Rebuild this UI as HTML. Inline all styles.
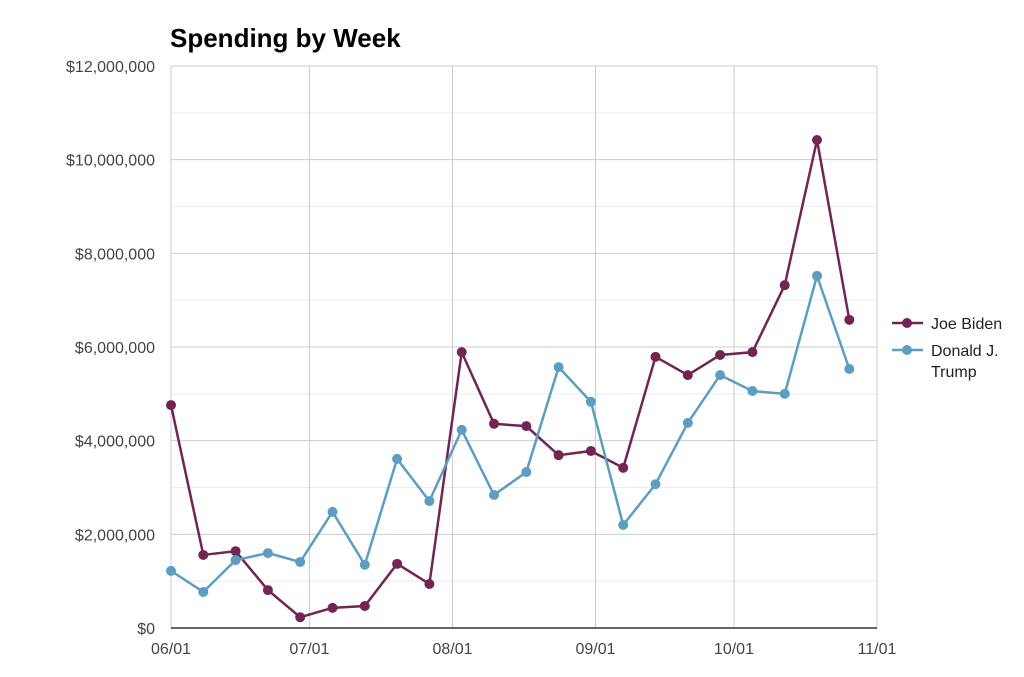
<!DOCTYPE html>
<html><head><meta charset="utf-8"><style>
body{margin:0;background:#fff;font-family:"Liberation Sans",Arial,sans-serif}
svg text{font-family:"Liberation Sans",Arial,sans-serif}
</style></head><body>
<svg id="chart" width="1024" height="672" xmlns="http://www.w3.org/2000/svg">
<text x="170" y="47" font-size="26" font-weight="bold" fill="#000">Spending by Week</text>
<g id="grid"></g><g id="series"></g>
<g>
<g><line x1="892" y1="323" x2="923" y2="323" stroke="#722552" stroke-width="2.5"/><circle cx="907" cy="323" r="5" fill="#722552"/><text x="931" y="329" font-size="16" fill="#222">Joe Biden</text></g>
<g><line x1="892" y1="350" x2="923" y2="350" stroke="#5b9ec2" stroke-width="2.5"/><circle cx="907" cy="350" r="5" fill="#5b9ec2"/><text x="931" y="356" font-size="16" fill="#222">Donald J.</text><text x="931" y="377" font-size="16" fill="#222">Trump</text></g>
</g>
</svg>
<script>
const weekDays=[0,7,14,21,28,35,42,49,56,63,70,77,84,91,98,105,112,119,126,133,140,147];
const bidenValues=[4.76,1.56,1.64,0.81,0.23,0.43,0.47,1.37,0.94,5.89,4.36,4.31,3.69,3.78,3.42,5.79,5.40,5.83,5.89,7.32,10.42,6.58];
const trumpValues=[1.22,0.77,1.45,1.60,1.41,2.48,1.35,3.61,2.71,4.23,2.84,3.33,5.57,4.83,2.20,3.07,4.38,5.40,5.06,5.00,7.52,5.53];
const yTicks=[0,2,4,6,8,10,12];
const yTickLabels=["$0","$2,000,000","$4,000,000","$6,000,000","$8,000,000","$10,000,000","$12,000,000"];
const monthDays=[0,30,61,92,122,153];
const monthLabels=["06/01","07/01","08/01","09/01","10/01","11/01"];
const NS="http://www.w3.org/2000/svg";
const x0=171,x1=877,y0=628,y1=66,dMax=153,vMax=12;
const X=d=>x0+d/dMax*(x1-x0), Y=v=>y0-v/vMax*(y0-y1);
function mk(t,a,p){const e=document.createElementNS(NS,t);for(const k in a)e.setAttribute(k,a[k]);p.appendChild(e);return e;}
const g=document.getElementById('grid'),s=document.getElementById('series');
for(let v=1;v<vMax;v+=2){const l=mk('line',{x1:x0,x2:x1,y1:Y(v),y2:Y(v),stroke:'#ebebeb'},g);

}
yTicks.forEach((v,i)=>{if(v>0){const l=mk('line',{x1:x0,x2:x1,y1:Y(v),y2:Y(v),stroke:'#ccc'},g);

}
const t=mk('text',{x:x0-16,y:Y(v)+6,'text-anchor':'end','font-size':16,fill:'#444'},g);t.textContent=yTickLabels[i];

});
monthDays.forEach((d,i)=>{const l=mk('line',{x1:X(d),x2:X(d),y1:y1,y2:y0,stroke:'#ccc'},g);


const t=mk('text',{x:X(d),y:y0+26,'text-anchor':'middle','font-size':16,fill:'#444'},g);t.textContent=monthLabels[i];

});
const ax=mk('line',{x1:x0,x2:x1,y1:y0,y2:y0,stroke:'#333','stroke-width':1.5},g);


function series(vals,color,name){
const p=mk('polyline',{points:vals.map((v,i)=>X(weekDays[i])+','+Y(v)).join(' '),fill:'none',stroke:color,'stroke-width':2.5},s);


vals.forEach((v,i)=>{const c=mk('circle',{cx:X(weekDays[i]),cy:Y(v),r:5,fill:color},s);

});}
series(bidenValues,'#722552','biden');
series(trumpValues,'#5b9ec2','trump');
</script>
</body></html>
